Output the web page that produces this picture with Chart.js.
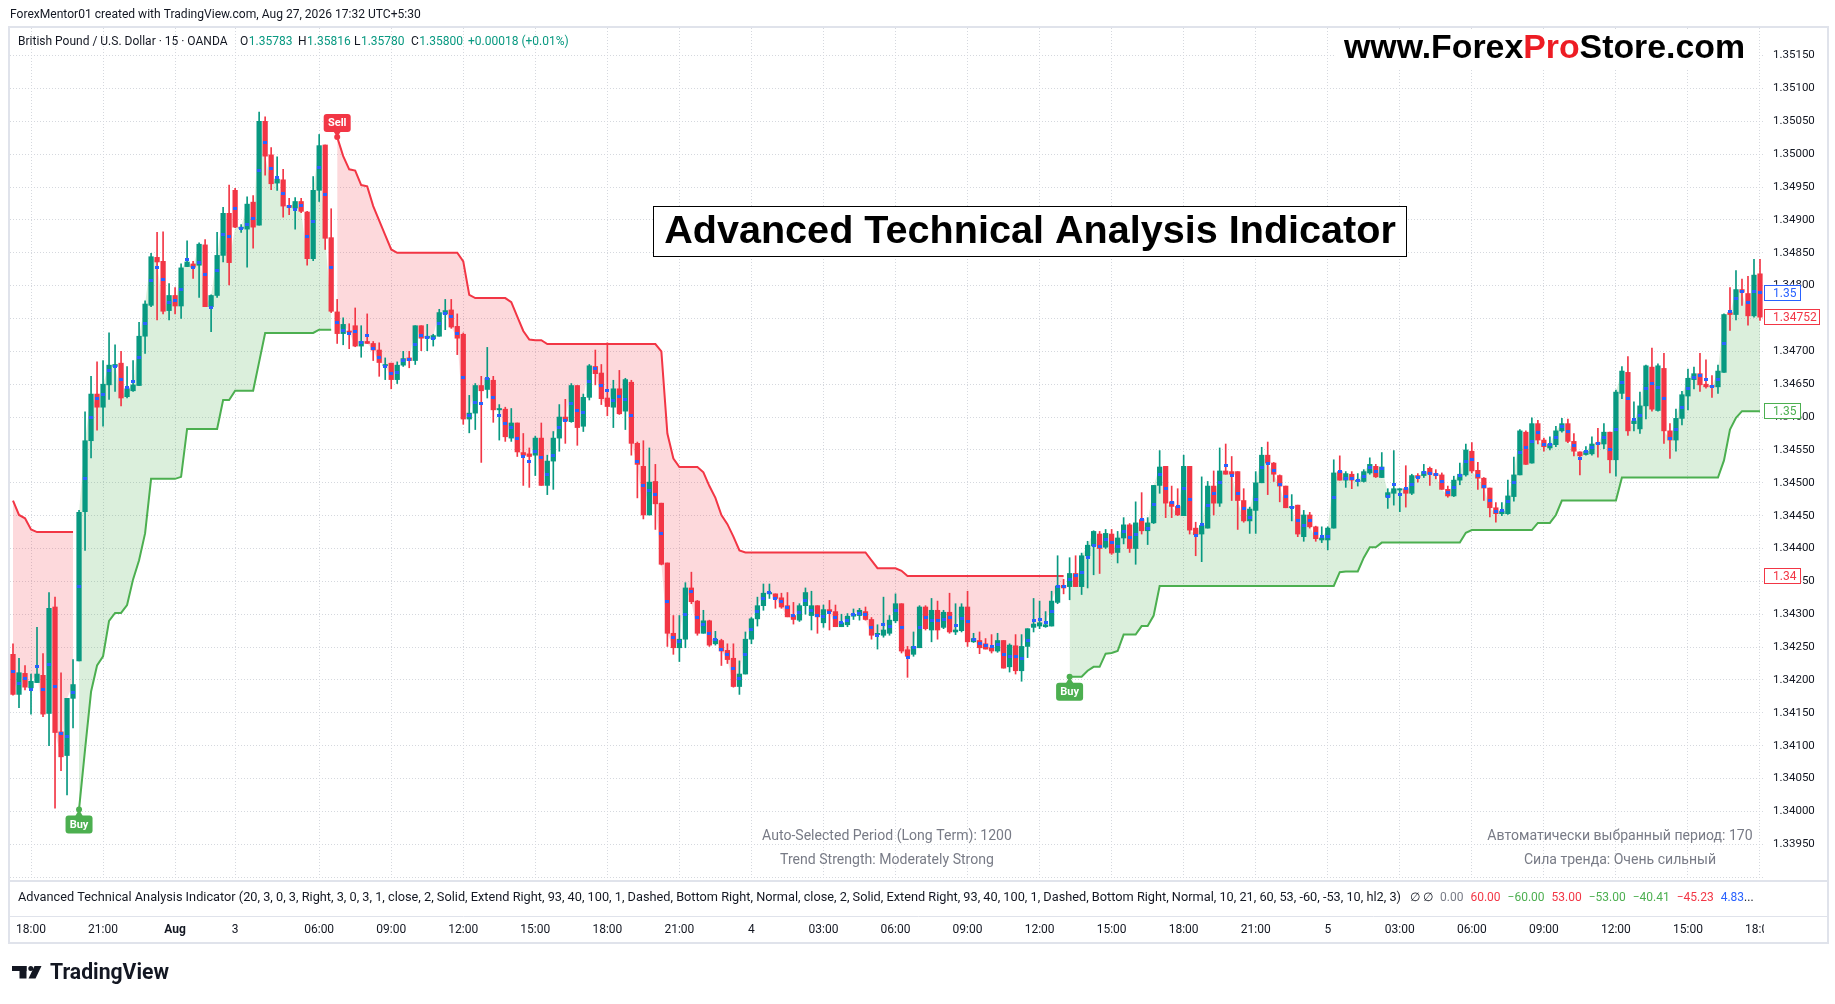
<!DOCTYPE html>
<html>
<head>
<meta charset="utf-8">
<script src="https://cdn.jsdelivr.net/npm/chart.js"></script>
<style>
  html, body { margin: 0; padding: 0; background: #fff; }
  canvas { display: block; }
</style>
</head>
<body>
<canvas id="chart" width="1835" height="1004"></canvas>
<script>
// GBP/USD 15m candles (Jul 31 17:15 -> Aug 5 18:00, weekend gap skipped)
const opens = [
  1.34239,1.34178,1.34210,1.34188,1.34196,1.34207,1.34149,1.34311,1.34121,1.34085,1.34172,1.34229,
  1.34456,1.34564,1.34635,1.34615,1.34649,1.34677,1.34682,1.34631,1.34640,1.34648,1.34723,1.34770,
  1.34843,1.34837,1.34762,1.34785,1.34769,1.34829,1.34833,1.34831,1.34862,1.34768,1.34785,1.34846,
  1.34910,1.34945,1.34887,1.34886,1.34927,1.34892,1.35050,1.34999,1.34956,1.34961,1.34922,1.34918,
  1.34928,1.34912,1.34841,1.34945,1.35014,1.34873,1.34760,1.34727,1.34731,1.34739,1.34708,1.34715,
  1.34712,1.34702,1.34678,1.34682,1.34657,1.34679,1.34690,1.34686,1.34739,1.34720,1.34719,1.34723,
  1.34757,1.34763,1.34738,1.34726,1.34597,1.34606,1.34648,1.34642,1.34656,1.34611,1.34612,1.34568,
  1.34591,1.34546,1.34544,1.34542,1.34568,1.34496,1.34533,1.34568,1.34600,1.34593,1.34648,1.34586,
  1.34630,1.34677,1.34667,1.34629,1.34615,1.34643,1.34609,1.34653,1.34560,1.34525,1.34451,1.34502,
  1.34469,1.34378,1.34271,1.34249,1.34262,1.34340,1.34320,1.34271,1.34290,1.34255,1.34260,1.34245,
  1.34233,1.34190,1.34209,1.34262,1.34293,1.34313,1.34331,1.34331,1.34325,1.34313,1.34298,1.34291,
  1.34313,1.34298,1.34313,1.34287,1.34307,1.34304,1.34281,1.34284,1.34297,1.34298,1.34304,1.34292,
  1.34269,1.34268,1.34271,1.34290,1.34316,1.34246,1.34239,1.34249,1.34311,1.34276,1.34306,1.34280,
  1.34303,1.34273,1.34275,1.34311,1.34258,1.34260,1.34255,1.34249,1.34244,1.34260,1.34220,1.34252,
  1.34214,1.34251,1.34280,1.34282,1.34281,1.34282,1.34318,1.34344,1.34342,1.34362,1.34342,1.34389,
  1.34404,1.34422,1.34402,1.34422,1.34394,1.34416,1.34436,1.34400,1.34444,1.34427,1.34439,1.34496,
  1.34525,1.34471,1.34464,1.34450,1.34525,1.34431,1.34422,1.34431,1.34495,1.34469,1.34518,1.34517,
  1.34517,1.34473,1.34442,1.34458,1.34500,1.34542,1.34530,1.34511,1.34495,1.34462,1.34466,1.34418,
  1.34451,1.34433,1.34413,1.34413,1.34431,1.34517,1.34504,1.34513,1.34502,1.34502,1.34515,1.34525,
  1.34508,1.34478,1.34484,1.34489,1.34491,1.34484,1.34511,1.34511,1.34522,1.34514,1.34512,1.34490,
  1.34480,1.34504,1.34512,1.34548,1.34519,1.34507,1.34492,1.34462,1.34453,1.34453,1.34479,1.34512,
  1.34577,1.34530,1.34590,1.34565,1.34553,1.34558,1.34579,1.34590,1.34563,1.34547,1.34543,1.34544,
  1.34561,1.34559,1.34577,1.34535,1.34636,1.34668,1.34590,1.34582,1.34617,1.34676,1.34610,1.34674,
  1.34579,1.34565,1.34598,1.34632,1.34657,1.34666,1.34650,1.34648,1.34646,1.34668,1.34759,1.34756,
  1.34794,1.34788,1.34754,1.34818
];
const highs = [
  1.34255,1.34233,1.34222,1.34209,1.34280,1.34240,1.34333,1.34326,1.34211,1.34172,1.34231,1.34458,
  1.34608,1.34662,1.34684,1.34686,1.34728,1.34710,1.34700,1.34677,1.34686,1.34744,1.34777,1.34849,
  1.34881,1.34882,1.34803,1.34797,1.34833,1.34868,1.34837,1.34865,1.34870,1.34786,1.34881,1.34919,
  1.34953,1.34948,1.34893,1.34935,1.34937,1.35064,1.35057,1.35010,1.34996,1.34977,1.34933,1.34934,
  1.34933,1.34913,1.34966,1.35030,1.35014,1.34917,1.34779,1.34751,1.34742,1.34766,1.34739,1.34757,
  1.34715,1.34713,1.34690,1.34682,1.34684,1.34700,1.34700,1.34739,1.34739,1.34741,1.34726,1.34764,
  1.34779,1.34779,1.34757,1.34728,1.34633,1.34651,1.34662,1.34706,1.34662,1.34619,1.34615,1.34613,
  1.34591,1.34575,1.34553,1.34571,1.34591,1.34542,1.34578,1.34619,1.34627,1.34651,1.34648,1.34635,
  1.34680,1.34702,1.34680,1.34713,1.34656,1.34671,1.34659,1.34656,1.34562,1.34564,1.34553,1.34528,
  1.34469,1.34378,1.34298,1.34298,1.34348,1.34364,1.34321,1.34306,1.34291,1.34274,1.34262,1.34255,
  1.34255,1.34229,1.34273,1.34295,1.34326,1.34346,1.34346,1.34331,1.34332,1.34333,1.34318,1.34316,
  1.34340,1.34335,1.34313,1.34314,1.34321,1.34314,1.34300,1.34301,1.34308,1.34309,1.34311,1.34295,
  1.34284,1.34326,1.34298,1.34331,1.34316,1.34251,1.34273,1.34313,1.34313,1.34324,1.34320,1.34306,
  1.34332,1.34316,1.34316,1.34335,1.34271,1.34273,1.34263,1.34269,1.34271,1.34260,1.34255,1.34269,
  1.34269,1.34278,1.34324,1.34320,1.34304,1.34335,1.34389,1.34353,1.34386,1.34389,1.34393,1.34411,
  1.34427,1.34426,1.34429,1.34429,1.34426,1.34447,1.34438,1.34471,1.34485,1.34447,1.34496,1.34549,
  1.34525,1.34495,1.34491,1.34542,1.34525,1.34440,1.34509,1.34502,1.34518,1.34553,1.34559,1.34540,
  1.34517,1.34491,1.34463,1.34517,1.34554,1.34562,1.34531,1.34512,1.34495,1.34482,1.34466,1.34458,
  1.34455,1.34434,1.34433,1.34433,1.34535,1.34541,1.34517,1.34517,1.34514,1.34520,1.34538,1.34528,
  1.34546,1.34491,1.34549,1.34491,1.34526,1.34513,1.34514,1.34528,1.34524,1.34520,1.34515,1.34495,
  1.34510,1.34530,1.34559,1.34561,1.34531,1.34508,1.34492,1.34470,1.34470,1.34504,1.34539,1.34581,
  1.34579,1.34599,1.34595,1.34568,1.34570,1.34586,1.34598,1.34597,1.34575,1.34547,1.34555,1.34570,
  1.34583,1.34590,1.34577,1.34641,1.34677,1.34692,1.34623,1.34638,1.34679,1.34705,1.34681,1.34697,
  1.34590,1.34612,1.34639,1.34673,1.34676,1.34697,1.34687,1.34663,1.34679,1.34757,1.34797,1.34823,
  1.34810,1.34814,1.34840,1.34840
];
const lows = [
  1.34177,1.34158,1.34185,1.34148,1.34196,1.34144,1.34100,1.34005,1.34062,1.34025,1.34127,1.34229,
  1.34397,1.34538,1.34580,1.34586,1.34627,1.34639,1.34617,1.34629,1.34639,1.34648,1.34697,1.34768,
  1.34748,1.34757,1.34748,1.34757,1.34750,1.34829,1.34811,1.34782,1.34768,1.34730,1.34782,1.34836,
  1.34801,1.34888,1.34881,1.34828,1.34857,1.34892,1.34968,1.34946,1.34945,1.34904,1.34908,1.34886,
  1.34911,1.34831,1.34838,1.34928,1.34855,1.34759,1.34712,1.34710,1.34704,1.34707,1.34691,1.34712,
  1.34686,1.34662,1.34657,1.34643,1.34651,1.34677,1.34675,1.34680,1.34701,1.34701,1.34708,1.34723,
  1.34733,1.34735,1.34695,1.34589,1.34576,1.34581,1.34531,1.34629,1.34592,1.34565,1.34563,1.34563,
  1.34540,1.34496,1.34493,1.34511,1.34496,1.34482,1.34490,1.34548,1.34560,1.34592,1.34557,1.34578,
  1.34626,1.34649,1.34619,1.34602,1.34584,1.34604,1.34581,1.34542,1.34477,1.34445,1.34451,1.34429,
  1.34375,1.34251,1.34239,1.34228,1.34249,1.34316,1.34268,1.34271,1.34251,1.34253,1.34222,1.34225,
  1.34189,1.34178,1.34209,1.34255,1.34282,1.34306,1.34324,1.34309,1.34309,1.34296,1.34285,1.34289,
  1.34300,1.34276,1.34271,1.34280,1.34276,1.34281,1.34281,1.34281,1.34292,1.34291,1.34291,1.34262,
  1.34247,1.34265,1.34268,1.34287,1.34241,1.34204,1.34236,1.34249,1.34276,1.34258,1.34262,1.34278,
  1.34271,1.34269,1.34273,1.34251,1.34257,1.34240,1.34247,1.34241,1.34242,1.34218,1.34212,1.34209,
  1.34198,1.34234,1.34273,1.34278,1.34280,1.34282,1.34316,1.34331,1.34322,1.34342,1.34330,1.34340,
  1.34360,1.34362,1.34400,1.34391,1.34378,1.34407,1.34394,1.34376,1.34422,1.34406,1.34438,1.34484,
  1.34447,1.34447,1.34450,1.34450,1.34422,1.34389,1.34380,1.34431,1.34451,1.34464,1.34513,1.34473,
  1.34429,1.34440,1.34423,1.34423,1.34500,1.34482,1.34502,1.34471,1.34462,1.34442,1.34418,1.34411,
  1.34431,1.34411,1.34409,1.34398,1.34431,1.34504,1.34493,1.34491,1.34495,1.34501,1.34513,1.34508,
  1.34508,1.34461,1.34466,1.34456,1.34463,1.34482,1.34501,1.34508,1.34496,1.34506,1.34490,1.34478,
  1.34479,1.34497,1.34510,1.34515,1.34490,1.34473,1.34448,1.34440,1.34450,1.34452,1.34472,1.34512,
  1.34528,1.34530,1.34559,1.34548,1.34550,1.34555,1.34577,1.34561,1.34541,1.34512,1.34542,1.34542,
  1.34539,1.34552,1.34515,1.34510,1.34628,1.34572,1.34579,1.34575,1.34597,1.34609,1.34609,1.34560,
  1.34537,1.34548,1.34588,1.34611,1.34643,1.34639,1.34644,1.34630,1.34636,1.34668,1.34732,1.34748,
  1.34770,1.34740,1.34752,1.34747
];
const closes = [
  1.34178,1.34211,1.34189,1.34198,1.34209,1.34148,1.34309,1.34120,1.34083,1.34172,1.34193,1.34455,
  1.34564,1.34635,1.34615,1.34650,1.34679,1.34680,1.34629,1.34643,1.34649,1.34723,1.34772,1.34844,
  1.34836,1.34761,1.34785,1.34769,1.34827,1.34836,1.34828,1.34863,1.34768,1.34785,1.34846,1.34910,
  1.34835,1.34889,1.34889,1.34924,1.34889,1.35050,1.34997,1.34955,1.34962,1.34921,1.34919,1.34928,
  1.34913,1.34841,1.34945,1.35013,1.34872,1.34761,1.34727,1.34741,1.34729,1.34708,1.34715,1.34712,
  1.34702,1.34683,1.34680,1.34657,1.34679,1.34689,1.34686,1.34739,1.34720,1.34723,1.34724,1.34759,
  1.34762,1.34737,1.34720,1.34597,1.34606,1.34648,1.34640,1.34659,1.34611,1.34613,1.34570,1.34591,
  1.34547,1.34542,1.34540,1.34568,1.34496,1.34533,1.34568,1.34600,1.34594,1.34648,1.34584,1.34630,
  1.34678,1.34666,1.34628,1.34616,1.34643,1.34605,1.34657,1.34560,1.34528,1.34451,1.34501,1.34468,
  1.34376,1.34271,1.34249,1.34262,1.34340,1.34319,1.34271,1.34290,1.34253,1.34262,1.34244,1.34231,
  1.34190,1.34209,1.34262,1.34293,1.34313,1.34332,1.34333,1.34324,1.34311,1.34296,1.34292,1.34313,
  1.34333,1.34313,1.34296,1.34307,1.34304,1.34281,1.34287,1.34297,1.34300,1.34306,1.34292,1.34268,
  1.34271,1.34276,1.34291,1.34316,1.34244,1.34236,1.34251,1.34311,1.34278,1.34306,1.34276,1.34303,
  1.34273,1.34276,1.34311,1.34258,1.34263,1.34249,1.34247,1.34244,1.34260,1.34218,1.34253,1.34214,
  1.34251,1.34278,1.34285,1.34287,1.34284,1.34320,1.34343,1.34340,1.34362,1.34342,1.34389,1.34405,
  1.34426,1.34400,1.34423,1.34393,1.34416,1.34436,1.34400,1.34439,1.34427,1.34439,1.34496,1.34524,
  1.34469,1.34464,1.34451,1.34525,1.34428,1.34421,1.34435,1.34495,1.34469,1.34518,1.34513,1.34513,
  1.34473,1.34442,1.34460,1.34500,1.34542,1.34530,1.34513,1.34495,1.34462,1.34464,1.34422,1.34451,
  1.34433,1.34415,1.34416,1.34431,1.34515,1.34504,1.34514,1.34504,1.34504,1.34517,1.34528,1.34509,
  1.34524,1.34485,1.34491,1.34491,1.34484,1.34511,1.34508,1.34517,1.34513,1.34511,1.34490,1.34480,
  1.34504,1.34513,1.34550,1.34518,1.34507,1.34492,1.34462,1.34453,1.34457,1.34480,1.34512,1.34579,
  1.34528,1.34590,1.34565,1.34555,1.34559,1.34579,1.34590,1.34563,1.34548,1.34541,1.34548,1.34559,
  1.34559,1.34577,1.34535,1.34638,1.34670,1.34579,1.34594,1.34617,1.34678,1.34612,1.34678,1.34579,
  1.34565,1.34598,1.34634,1.34659,1.34666,1.34649,1.34646,1.34646,1.34670,1.34756,1.34756,1.34794,
  1.34790,1.34754,1.34816,1.34752
];

// Trailing stop of the indicator (red while short, green while long)
const trailStop = [
  1.34473,1.34451,1.34446,1.34429,1.34425,1.34425,1.34425,1.34425,1.34425,1.34425,1.34425,1.34003,
  1.34094,1.34182,1.34222,1.34236,1.34290,1.34302,1.34302,1.34314,1.34353,1.34382,1.34423,1.34506,
  1.34506,1.34506,1.34506,1.34506,1.34509,1.34582,1.34582,1.34582,1.34582,1.34582,1.34582,1.34626,
  1.34626,1.34640,1.34640,1.34640,1.34640,1.34684,1.34728,1.34728,1.34728,1.34728,1.34728,1.34728,
  1.34728,1.34728,1.34728,1.34733,1.34733,1.34733,1.35026,1.34997,1.34977,1.34975,1.34953,1.34951,
  1.34921,1.34899,1.34877,1.34855,1.34850,1.34850,1.34850,1.34850,1.34850,1.34850,1.34850,1.34850,
  1.34850,1.34850,1.34850,1.34837,1.34786,1.34781,1.34781,1.34781,1.34781,1.34781,1.34781,1.34775,
  1.34753,1.34731,1.34718,1.34717,1.34717,1.34711,1.34711,1.34711,1.34711,1.34711,1.34711,1.34711,
  1.34711,1.34711,1.34711,1.34711,1.34711,1.34711,1.34711,1.34711,1.34711,1.34711,1.34711,1.34711,
  1.34700,1.34575,1.34537,1.34524,1.34524,1.34524,1.34524,1.34516,1.34495,1.34477,1.34451,1.34437,
  1.34418,1.34397,1.34394,1.34394,1.34394,1.34394,1.34394,1.34394,1.34394,1.34394,1.34394,1.34394,
  1.34394,1.34394,1.34394,1.34394,1.34394,1.34394,1.34394,1.34394,1.34394,1.34394,1.34394,1.34382,
  1.34370,1.34370,1.34370,1.34370,1.34366,1.34358,1.34358,1.34358,1.34358,1.34358,1.34358,1.34358,
  1.34358,1.34358,1.34358,1.34358,1.34358,1.34358,1.34358,1.34358,1.34358,1.34358,1.34358,1.34358,
  1.34358,1.34358,1.34358,1.34358,1.34358,1.34358,1.34358,1.34358,1.34205,1.34205,1.34205,1.34214,
  1.34220,1.34220,1.34240,1.34241,1.34244,1.34269,1.34269,1.34269,1.34282,1.34282,1.34298,1.34343,
  1.34343,1.34343,1.34343,1.34343,1.34343,1.34343,1.34343,1.34343,1.34343,1.34343,1.34343,1.34343,
  1.34343,1.34343,1.34343,1.34343,1.34343,1.34343,1.34343,1.34343,1.34343,1.34343,1.34343,1.34343,
  1.34343,1.34343,1.34343,1.34343,1.34343,1.34364,1.34365,1.34365,1.34365,1.34386,1.34402,1.34402,
  1.34409,1.34409,1.34409,1.34409,1.34409,1.34409,1.34409,1.34409,1.34409,1.34409,1.34409,1.34409,
  1.34409,1.34409,1.34424,1.34428,1.34428,1.34428,1.34428,1.34428,1.34428,1.34428,1.34428,1.34428,
  1.34428,1.34428,1.34439,1.34439,1.34439,1.34451,1.34473,1.34473,1.34473,1.34473,1.34473,1.34473,
  1.34473,1.34473,1.34473,1.34473,1.34508,1.34508,1.34508,1.34508,1.34508,1.34508,1.34508,1.34508,
  1.34508,1.34508,1.34508,1.34508,1.34508,1.34508,1.34508,1.34508,1.34508,1.34534,1.34581,1.34599,
  1.34609,1.34609,1.34609,1.34609
];

// Signals (bar index where the trend flips); before the first one the trend is down
const signalBars = [11, 54, 176];
const signalText = ['Buy', 'Sell', 'Buy'];

// Time scale labels (bar index -> text)
const timeTickBars = [3, 15, 27, 37, 51, 63, 75, 87, 99, 111, 123, 135, 147, 159, 171, 183, 195, 207, 219, 231, 243, 255, 267, 279, 291];
const timeTickText = ['18:00', '21:00', 'Aug', '3', '06:00', '09:00', '12:00', '15:00', '18:00', '21:00', '4', '03:00',
  '06:00', '09:00', '12:00', '15:00', '18:00', '21:00', '5', '03:00', '06:00', '09:00', '12:00', '15:00', '18:00'];

// Price scale
const priceTicks = [1.339, 1.3395, 1.34, 1.3405, 1.341, 1.3415, 1.342, 1.3425, 1.343, 1.3435, 1.344, 1.3445, 1.345,
  1.3455, 1.346, 1.3465, 1.347, 1.3475, 1.348, 1.3485, 1.349, 1.3495, 1.35, 1.3505, 1.351, 1.3515];
const priceMin = 1.338956;
const priceMax = 1.351920;

// Indicator status-line values
const stripValues = ['0.00', '60.00', '\u221260.00', '53.00', '\u221253.00', '\u221240.41', '\u221245.23', '4.83'];

const UP = '#089981';
const DOWN = '#f23645';
const LONG = '#4caf50';
const BLUE = '#2962ff';
const TEXT = '#131722';
const GREY = '#787b86';
const GRID = '#d5d8de';
const FONT = 'Roboto, "Liberation Sans", sans-serif';

const n = closes.length;
if ([opens, highs, lows, trailStop].some(a => a.length !== n)) console.error('length mismatch');

// ─── derived series ─────────────────────────────────────────────────────────
const dir = [];
let trend = -1, sig = 0;
for (let i = 0; i < n; i++) {
  if (sig < signalBars.length && i === signalBars[sig]) {
    trend = signalText[sig] === 'Buy' ? 1 : -1;
    sig++;
  }
  dir.push(trend);
}
const shortStop = trailStop.map((v, i) => dir[i] < 0 ? v : null);
const longStop = trailStop.map((v, i) => dir[i] > 0 ? v : null);
const bodies = opens.map((o, i) => [o, closes[i]]);
const wicks = lows.map((l, i) => [l, highs[i]]);
const candleColor = closes.map((c, i) => c >= opens[i] ? UP : DOWN);
const ohlc4 = opens.map((o, i) => (o + highs[i] + lows[i] + closes[i]) / 4);
const labels = closes.map((_, i) => String(i));
const tickMap = new Map(timeTickBars.map((b, i) => [b, timeTickText[i]]));

// little blue dash used for the ohlc4 marks
const dash = document.createElement('canvas');
dash.width = 4; dash.height = 3;
const dctx = dash.getContext('2d');
dctx.fillStyle = BLUE;
dctx.fillRect(0, 0, 4, 3);

// ─── helpers ────────────────────────────────────────────────────────────────
function fitFont(ctx, text, width, weight, family) {
  ctx.font = `${weight} 100px ${family}`;
  const size = 100 * width / ctx.measureText(text).width;
  return `${weight} ${size.toFixed(2)}px ${family}`;
}

// draw text stretched/squeezed horizontally to an exact width
function fillToWidth(ctx, text, x, y, width) {
  const w = ctx.measureText(text).width;
  ctx.save();
  ctx.translate(x, y);
  ctx.scale(width / w, 1);
  ctx.fillText(text, 0, 0);
  ctx.restore();
}

function roundRect(ctx, x, y, w, h, r) {
  ctx.beginPath();
  ctx.moveTo(x + r, y);
  ctx.lineTo(x + w - r, y);
  ctx.quadraticCurveTo(x + w, y, x + w, y + r);
  ctx.lineTo(x + w, y + h - r);
  ctx.quadraticCurveTo(x + w, y + h, x + w - r, y + h);
  ctx.lineTo(x + r, y + h);
  ctx.quadraticCurveTo(x, y + h, x, y + h - r);
  ctx.lineTo(x, y + r);
  ctx.quadraticCurveTo(x, y, x + r, y);
  ctx.closePath();
}

// Buy / Sell bubble pointing to the stop value
function signalTag(ctx, x, yPt, text, color, below) {
  ctx.font = `bold 11px ${FONT}`;
  const w = Math.round(ctx.measureText(text).width + 8), h = 18;
  const top = below ? yPt + 6 : yPt - 5 - h;
  ctx.fillStyle = color;
  roundRect(ctx, x - w / 2, top, w, h, 3);
  ctx.fill();
  ctx.beginPath();
  if (below) {
    ctx.moveTo(x - 4, top + 1); ctx.lineTo(x, yPt); ctx.lineTo(x + 4, top + 1);
  } else {
    ctx.moveTo(x - 4, top + h - 1); ctx.lineTo(x, yPt); ctx.lineTo(x + 4, top + h - 1);
  }
  ctx.fill();
  ctx.beginPath();
  ctx.arc(x, yPt, 3, 0, Math.PI * 2);
  ctx.fill();
  ctx.fillStyle = '#fff';
  ctx.textAlign = 'center';
  ctx.textBaseline = 'middle';
  ctx.fillText(text, x, top + h / 2 + 0.5);
}

// outlined label on the price scale
function axisTag(ctx, left, y, text, color, w) {
  ctx.fillStyle = '#fff';
  ctx.fillRect(left, y - 8, w, 16);
  ctx.strokeStyle = color;
  ctx.lineWidth = 1;
  ctx.strokeRect(left + 0.5, Math.round(y) - 7.5, w - 1, 15);
  ctx.fillStyle = color;
  ctx.font = `12px ${FONT}`;
  ctx.textAlign = 'left';
  ctx.textBaseline = 'middle';
  ctx.fillText(text, left + 9, Math.round(y) + 0.5);
}

// ─── everything TradingView draws around the series ─────────────────────────
const overlay = {
  id: 'overlay',
  afterDraw(chart) {
    const ctx = chart.ctx;
    const xs = chart.scales.x, ys = chart.scales.y, area = chart.chartArea;
    ctx.save();

    // time scale ends at the price pane edge
    ctx.fillStyle = '#fff';
    ctx.fillRect(area.right + 1, 918, 70, 24);

    // frame and pane separators
    ctx.strokeStyle = '#e0e3eb';
    ctx.lineWidth = 2;
    ctx.strokeRect(9, 27, 1819, 916);
    ctx.beginPath();
    ctx.moveTo(9, 881); ctx.lineTo(1828, 881);
    ctx.stroke();
    ctx.lineWidth = 1;
    ctx.beginPath();
    ctx.moveTo(9, 916.5); ctx.lineTo(1828, 916.5);
    ctx.stroke();

    // snapshot header
    ctx.fillStyle = TEXT;
    ctx.textBaseline = 'middle';
    ctx.textAlign = 'left';
    const header = 'ForexMentor01 created with TradingView.com, Aug 27, 2026 17:32 UTC+5:30';
    ctx.font = fitFont(ctx, header, 411, 'normal', FONT);
    ctx.fillText(header, 10, 15);

    // symbol legend
    ctx.font = `12px ${FONT}`;
    ctx.fillText('British Pound / U.S. Dollar \u00b7 15 \u00b7 OANDA', 18, 42);
    [['O', '1.35783', 240], ['H', '1.35816', 298], ['L', '1.35780', 354], ['C', '1.35800', 411]].forEach(([k, v, x]) => {
      ctx.fillStyle = TEXT;
      ctx.fillText(k, x, 42);
      ctx.fillStyle = UP;
      ctx.fillText(v, x + ctx.measureText(k).width + 0.5, 42);
    });
    ctx.fillStyle = UP;
    ctx.fillText('+0.00018 (+0.01%)', 468, 42);

    // watermark url
    ctx.fillStyle = '#fff';
    ctx.fillRect(1334, 29, 424, 40);
    const parts = [['www.Forex', '#000'], ['Pro', '#ed1c24'], ['Store.com', '#000']];
    ctx.font = fitFont(ctx, parts.map(p => p[0]).join(''), 401, 'bold', '"Liberation Sans", Arial, sans-serif');
    ctx.textBaseline = 'alphabetic';
    let ux = 1344;
    parts.forEach(([t, c]) => {
      ctx.fillStyle = c;
      ctx.fillText(t, ux, 58);
      ux += ctx.measureText(t).width;
    });

    // title box
    ctx.fillStyle = '#fff';
    ctx.fillRect(653, 206, 754, 51);
    ctx.strokeStyle = '#000';
    ctx.lineWidth = 1;
    ctx.strokeRect(653.5, 206.5, 753, 50);
    const title = 'Advanced Technical Analysis Indicator';
    ctx.font = fitFont(ctx, title, 732, 'bold', '"Liberation Sans", Arial, sans-serif');
    ctx.fillStyle = '#000';
    ctx.textAlign = 'center';
    ctx.fillText(title, 1030, 243);

    // table texts at the bottom of the pane
    ctx.fillStyle = GREY;
    ctx.textBaseline = 'middle';
    ctx.font = fitFont(ctx, 'Auto-Selected Period (Long Term): 1200', 250, 'normal', FONT);
    ctx.fillText('Auto-Selected Period (Long Term): 1200', 887, 836);
    ctx.fillText('Trend Strength: Moderately Strong', 887, 860);
    ctx.fillText('\u0410\u0432\u0442\u043e\u043c\u0430\u0442\u0438\u0447\u0435\u0441\u043a\u0438 \u0432\u044b\u0431\u0440\u0430\u043d\u043d\u044b\u0439 \u043f\u0435\u0440\u0438\u043e\u0434: 170', 1620, 836);
    ctx.fillText('\u0421\u0438\u043b\u0430 \u0442\u0440\u0435\u043d\u0434\u0430: \u041e\u0447\u0435\u043d\u044c \u0441\u0438\u043b\u044c\u043d\u044b\u0439', 1620, 860);

    // indicator status line
    ctx.textAlign = 'left';
    ctx.font = `12px ${FONT}`;
    ctx.fillStyle = TEXT;
    const params = 'Advanced Technical Analysis Indicator (20, 3, 0, 3, Right, 3, 0, 3, 1, close, 2, Solid, Extend Right, 93, 40, 100, 1, Dashed, Bottom Right, Normal, close, 2, Solid, Extend Right, 93, 40, 100, 1, Dashed, Bottom Right, Normal, 10, 21, 60, 53, -60, -53, 10, hl2, 3)';
    fillToWidth(ctx, params, 18, 898, 1383);
    ctx.fillText('\u2205', 1410, 898);
    ctx.fillText('\u2205', 1423, 898);
    const stripColors = [GREY, DOWN, LONG, DOWN, LONG, LONG, DOWN, BLUE];
    let sx = 1440;
    stripValues.forEach((v, i) => {
      ctx.fillStyle = stripColors[i];
      ctx.fillText(v, sx, 898);
      sx += ctx.measureText(v).width + 7;
    });
    ctx.fillStyle = TEXT;
    ctx.fillText('...', sx - 7, 898);

    // Buy / Sell signals
    signalBars.forEach((b, i) => {
      const buy = signalText[i] === 'Buy';
      signalTag(ctx, xs.getPixelForValue(b), ys.getPixelForValue(trailStop[b]), signalText[i], buy ? LONG : DOWN, buy);
    });

    // price scale labels
    let lastShort = n - 1;
    while (lastShort > 0 && dir[lastShort] > 0) lastShort--;
    const lastLong = trailStop[n - 1];
    const left = area.right + 1;
    axisTag(ctx, left, ys.getPixelForValue(ohlc4[n - 1]), ohlc4[n - 1].toFixed(2), BLUE, 37);
    axisTag(ctx, left, ys.getPixelForValue(closes[n - 1]), closes[n - 1].toFixed(5), DOWN, 56);
    axisTag(ctx, left, ys.getPixelForValue(lastLong), lastLong.toFixed(2), LONG, 37);
    axisTag(ctx, left, ys.getPixelForValue(trailStop[lastShort]), trailStop[lastShort].toFixed(2), DOWN, 37);

    // TradingView logo
    ctx.fillStyle = TEXT;
    ctx.fillRect(12, 966, 14.5, 5);
    ctx.fillRect(19.5, 966, 7, 12.5);
    ctx.beginPath();
    ctx.arc(30.8, 968.4, 2.5, 0, Math.PI * 2);
    ctx.fill();
    ctx.beginPath();
    ctx.moveTo(34.5, 966); ctx.lineTo(41.5, 966); ctx.lineTo(35.5, 978.5); ctx.lineTo(28.5, 978.5);
    ctx.closePath();
    ctx.fill();
    ctx.font = fitFont(ctx, 'TradingView', 119, 'bold', FONT);
    ctx.textBaseline = 'alphabetic';
    ctx.fillText('TradingView', 50, 978.5);

    ctx.restore();
  }
};

// ─── chart ──────────────────────────────────────────────────────────────────
new Chart(document.getElementById('chart').getContext('2d'), {
  type: 'bar',
  data: {
    labels,
    datasets: [
      { type: 'line', data: closes, borderColor: 'transparent', borderWidth: 0, pointRadius: 0, order: 10 },
      {
        type: 'line', data: shortStop, borderColor: DOWN, borderWidth: 2, pointRadius: 0, spanGaps: false, order: 9,
        fill: { target: 0, above: 'rgba(242, 54, 69, 0.19)', below: 'rgba(242, 54, 69, 0.19)' },
      },
      {
        type: 'line', data: longStop, borderColor: LONG, borderWidth: 2, pointRadius: 0, spanGaps: false, order: 9,
        fill: { target: 0, above: 'rgba(76, 175, 80, 0.2)', below: 'rgba(76, 175, 80, 0.2)' },
      },
      { type: 'bar', data: wicks, backgroundColor: candleColor, barThickness: 1, grouped: false, order: 5 },
      { type: 'bar', data: bodies, backgroundColor: candleColor, barThickness: 4.6, minBarLength: 1, grouped: false, order: 4 },
      { type: 'line', data: ohlc4, showLine: false, pointStyle: dash, pointRadius: 2, order: 1 },
    ],
  },
  options: {
    responsive: false,
    animation: false,
    devicePixelRatio: 1,
    events: [],
    layout: { padding: { left: 10, top: 28, right: 7, bottom: 61 } },
    plugins: { legend: { display: false }, tooltip: { enabled: false } },
    scales: {
      x: {
        type: 'category',
        offset: true,
        grid: {
          offset: false,
          drawTicks: false,
          color: c => tickMap.has(c.index) ? GRID : 'transparent',
        },
        border: { display: false, dash: [1, 2] },
        ticks: {
          autoSkip: false,
          maxRotation: 0,
          minRotation: 0,
          padding: 43,
          color: TEXT,
          font: c => ({ family: FONT, size: 12, weight: (c.tick && c.tick.label === 'Aug') ? 'bold' : 'normal' }),
          callback: (v, i) => tickMap.get(i) ?? '',
        },
        // the label padding must not push the pane edges inwards
        afterFit: s => { s.height = 63; s.paddingLeft = 0; s.paddingRight = 0; },
      },
      y: {
        position: 'right',
        min: priceMin,
        max: priceMax,
        grid: { drawTicks: false, color: GRID },
        border: { display: false, dash: [1, 2] },
        ticks: {
          padding: 10,
          color: TEXT,
          font: { family: FONT, size: 11.5 },
          callback: v => v < 1.3394 ? '' : v.toFixed(5),
        },
        afterBuildTicks: s => { s.ticks = priceTicks.map(v => ({ value: v })); },
        afterFit: s => { s.width = 65; },
      },
    },
  },
  plugins: [overlay],
});
</script>
</body>
</html>
